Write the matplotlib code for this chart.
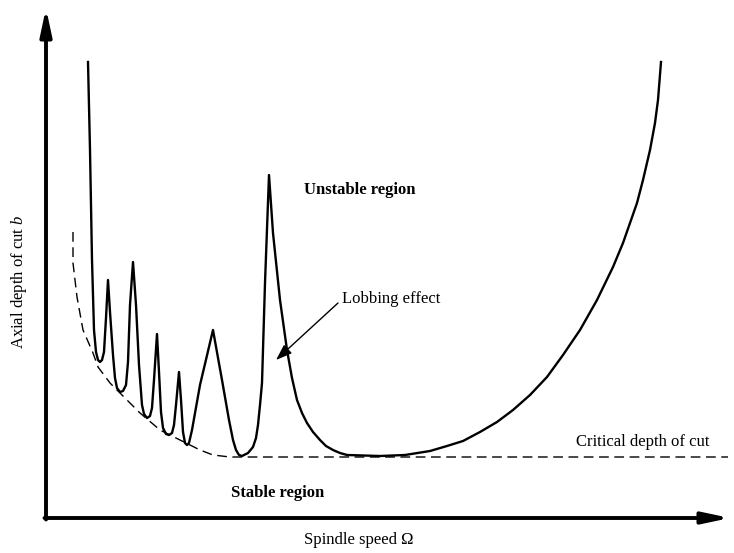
import matplotlib
matplotlib.use("Agg")
import matplotlib.pyplot as plt

plt.rcParams['font.family'] = ['Liberation Serif', 'DejaVu Serif']
plt.rcParams['mathtext.fontset'] = 'custom'
plt.rcParams['mathtext.rm'] = 'Liberation Serif'
plt.rcParams['mathtext.it'] = 'Liberation Serif:italic'

# Stability lobe boundary (arbitrary units: spindle speed, axial depth of cut)
lobe_speed = [42, 44, 46, 48, 50, 52, 54, 56, 58, 60, 62, 64, 67, 69, 71, 74,
              77, 80, 82, 84, 87, 90, 93, 96, 98, 101, 104, 106, 108, 111, 113,
              115, 117, 120, 123, 126, 128, 130, 133, 135, 137, 139, 141, 143,
              146, 154, 167, 176, 183, 187, 190, 193, 196,
              202, 207, 210, 212, 214, 216, 219, 223,
              227, 234, 241, 246, 251, 256, 261, 267, 274, 280, 287, 294, 301,
              334, 359, 384, 401, 417, 434, 451, 467, 484, 501, 517, 534, 551,
              567, 577, 591, 597, 604, 609, 612, 615]
lobe_depth = [456, 368, 258, 188, 166, 158, 156, 158, 166, 200, 238, 206, 163,
              140, 130, 126, 127, 133, 156, 213, 256, 213, 153, 113, 104, 100,
              102, 110, 138, 184, 146, 106, 90, 84, 83, 85, 93, 113, 146, 118,
              86, 75, 73, 75, 88, 133, 188, 138, 98, 78, 68, 63, 62,
              65, 71, 80, 93, 113, 135, 235, 343,
              285, 218, 168, 140, 118, 105, 95, 86, 78, 72, 68, 65, 63,
              62, 63, 67, 72, 77, 86, 96, 108, 123, 141, 163, 188, 218,
              251, 275, 315, 338, 368, 395, 418, 456]

# Envelope of lobe minima (dashed)
env_speed = [27, 27, 31, 37, 47, 52, 64, 84, 94, 114, 134, 154, 167, 184, 682]
env_depth = [286, 255, 221, 188, 165, 151, 135, 115, 105, 88, 78, 68, 63, 61, 61]

fig = plt.figure(figsize=(7.34, 5.53), dpi=100)
W, H = 734, 553
ox, oy = 46, 518
ax = fig.add_axes([ox / W, (H - oy) / H, 680 / W, 500 / H])
ax.set_xlim(0, 680)
ax.set_ylim(0, 500)
ax.axis('off')

ax.plot(lobe_speed, lobe_depth, color='black', lw=1.7, solid_joinstyle='round',
        clip_on=False)
ax.plot(env_speed, env_depth, color='black', lw=1.0, dashes=(7, 4), clip_on=False)

# Axes with arrows
arrow_kw = dict(arrowstyle='-|>,head_length=0.8,head_width=0.17', lw=2.8,
                color='black', mutation_scale=20, shrinkA=0, shrinkB=0)
ax.annotate('', xy=(0, 510), xytext=(0, -1.5), arrowprops=arrow_kw,
            annotation_clip=False)
ax.annotate('', xy=(684, 0), xytext=(-1.5, 0), arrowprops=arrow_kw,
            annotation_clip=False)

# Labels
ax.text(314, 328, 'Unstable region', ha='center', va='center', fontsize=12,
        fontweight='bold')
ax.text(232, 25, 'Stable region', ha='center', va='center', fontsize=12,
        fontweight='bold')
ax.text(597, 76, 'Critical depth of cut', ha='center', va='center', fontsize=12)
ax.text(296, 219, 'Lobbing effect', ha='left', va='center', fontsize=12)
ax.annotate('', xy=(230, 158), xytext=(292, 215),
            arrowprops=dict(arrowstyle='-|>,head_length=0.7,head_width=0.25',
                            lw=1.0, color='black', mutation_scale=14,
                            shrinkA=0, shrinkB=0),
            annotation_clip=False)
ax.text(313, -22, 'Spindle speed Ω', ha='center', va='center', fontsize=12,
        clip_on=False)
ax.text(-27, 236, 'Axial depth of cut $b$', ha='center', va='center',
        fontsize=12, rotation=90, clip_on=False)

fig.savefig('out.png', dpi=100)
